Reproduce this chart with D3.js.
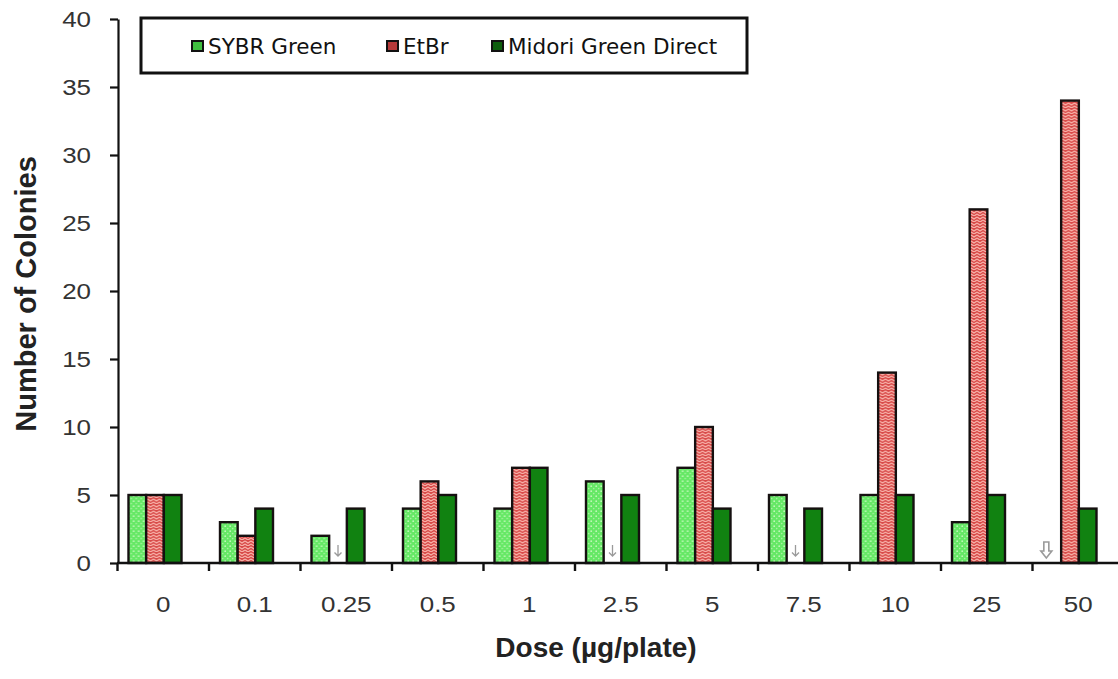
<!DOCTYPE html>
<html>
<head>
<meta charset="utf-8">
<script src="https://cdn.jsdelivr.net/npm/d3@7"></script>
<style>
  body { margin: 0; background: #fff; }
  svg { display: block; }
</style>
</head>
<body>
<svg id="chart" width="1118" height="679"></svg>
<script>
// values (null = none, marked with an arrow)
const doses = ["0", "0.1", "0.25", "0.5", "1", "2.5", "5", "7.5", "10", "25", "50"];
const seriesNames = ["SYBR Green", "EtBr", "Midori Green Direct"];
const sybr = [5, 3, 2, 4, 4, 6, 7, 5, 5, 3, null];
const etbr = [5, 2, null, 6, 7, null, 10, null, 14, 26, 34];
const midori = [5, 4, 4, 5, 7, 5, 4, 4, 5, 5, 4];
const yTicks = [0, 5, 10, 15, 20, 25, 30, 35, 40];

const svg = d3.select("#chart");
const defs = svg.append("defs");

// speckled light green
const pg = defs.append("pattern").attr("id", "pat-sybr")
  .attr("width", 5).attr("height", 5).attr("patternUnits", "userSpaceOnUse");
pg.append("rect").attr("width", 5).attr("height", 5).attr("fill", "#66e866");
pg.append("circle").attr("cx", 1.2).attr("cy", 1.2).attr("r", 0.9).attr("fill", "#c0f8b8");
pg.append("circle").attr("cx", 3.7).attr("cy", 3.6).attr("r", 0.8).attr("fill", "#a8f2a0");

// red with pink zigzag
const pr = defs.append("pattern").attr("id", "pat-etbr")
  .attr("width", 6).attr("height", 6).attr("patternUnits", "userSpaceOnUse");
pr.append("rect").attr("width", 6).attr("height", 6).attr("fill", "#d84a48");
pr.append("path").attr("d", "M0,1 L3,3 L6,1 M0,4 L3,6 L6,4")
  .attr("fill", "none").attr("stroke", "#f7b0a8").attr("stroke-width", 1.3);

const fills = ["url(#pat-sybr)", "url(#pat-etbr)", "#118211"];
const swatch = ["#3fbf3f", "#b53a3a", "#0d5e0d"];

const x = d3.scaleBand().domain(doses).range([117.5, 1124]);
const sub = d3.scaleBand().domain(seriesNames).range([11, 64]);
const y = d3.scaleLinear().domain([0, 40]).range([563, 19]);

const rows = doses.map((d, i) => ({dose: d, values: [sybr[i], etbr[i], midori[i]]}));

// bars
const groups = svg.append("g").selectAll("g").data(rows).join("g")
  .attr("transform", d => `translate(${x(d.dose)},0)`);

groups.selectAll("rect").data(d => d.values.map((v, k) => ({v, k})).filter(e => e.v != null))
  .join("rect")
  .attr("x", e => sub(seriesNames[e.k]))
  .attr("width", sub.bandwidth())
  .attr("y", e => y(e.v))
  .attr("height", e => y(0) - y(e.v))
  .attr("fill", e => fills[e.k])
  .attr("stroke", "#151010")
  .attr("stroke-width", 2.4);

// arrows where there is no bar
groups.selectAll("path.miss").data(d => d.values.map((v, k) => ({v, k})).filter(e => e.v == null))
  .join("path")
  .attr("class", "miss")
  .attr("transform", e => `translate(${sub(seriesNames[e.k]) + sub.bandwidth() / 2 - (e.k === 0 ? 6 : 0)},${y(0) - 12})`)
  .attr("d", e => e.k === 0
    ? "M-2.5,-9 L2.5,-9 L2.5,0 L5.5,0 L0,7 L-5.5,0 L-2.5,0 Z"
    : "M0,-6 L0,5 M-3.5,1.5 L0,5 L3.5,1.5")
  .attr("fill", "none")
  .attr("stroke", "#9a9a9a")
  .attr("stroke-width", e => e.k === 0 ? 1.6 : 1.3);

// y axis
const yAxis = svg.append("g").attr("transform", "translate(118,0)")
  .call(d3.axisLeft(y).tickValues(yTicks).tickSize(8).tickSizeOuter(0));
yAxis.select(".domain").attr("stroke", "#111").attr("stroke-width", 2.2);
yAxis.selectAll(".tick line").attr("stroke", "#111").attr("stroke-width", 2.2);
yAxis.selectAll(".tick text")
  .attr("x", -27 / 1.18)
  .attr("transform", "scale(1.18,1)")
  .attr("font-family", "'Liberation Sans', Arial, sans-serif")
  .attr("font-size", 22)
  .attr("fill", "#333");

// x axis
const xAxis = svg.append("g");
xAxis.append("line")
  .attr("x1", 117).attr("x2", 1118).attr("y1", y(0)).attr("y2", y(0))
  .attr("stroke", "#111").attr("stroke-width", 2.6);
xAxis.selectAll("line.tk").data(doses).join("line")
  .attr("class", "tk")
  .attr("x1", d => x(d)).attr("x2", d => x(d))
  .attr("y1", y(0)).attr("y2", y(0) + 8)
  .attr("stroke", "#111").attr("stroke-width", 2.4);
xAxis.selectAll("text").data(doses).join("text")
  .attr("transform", d => `translate(${x(d) + x.bandwidth() / 2},612) scale(1.18,1)`)
  .attr("text-anchor", "middle")
  .attr("font-family", "'Liberation Sans', Arial, sans-serif")
  .attr("font-size", 22)
  .attr("fill", "#333")
  .text(d => d);

// axis titles
svg.append("text")
  .attr("x", 596).attr("y", 657)
  .attr("text-anchor", "middle")
  .attr("font-family", "'Liberation Sans', Arial, sans-serif")
  .attr("font-weight", "bold")
  .attr("font-size", 28)
  .attr("fill", "#222")
  .text("Dose (\u00b5g/plate)");

svg.append("text")
  .attr("transform", "translate(36,294) rotate(-90)")
  .attr("text-anchor", "middle")
  .attr("font-family", "'Liberation Sans', Arial, sans-serif")
  .attr("font-weight", "bold")
  .attr("font-size", 29)
  .attr("fill", "#222")
  .text("Number of Colonies");

// legend
const legend = svg.append("g");
legend.append("rect")
  .attr("x", 141).attr("y", 18).attr("width", 606).attr("height", 55)
  .attr("fill", "#fff").attr("stroke", "#111").attr("stroke-width", 3);
const legendX = [192, 387, 492];
const item = legend.selectAll("g").data(seriesNames).join("g")
  .attr("transform", (d, i) => `translate(${legendX[i]},46)`);
item.append("rect")
  .attr("x", 0).attr("y", -5).attr("width", 11).attr("height", 10)
  .attr("fill", (d, i) => swatch[i])
  .attr("stroke", "#111").attr("stroke-width", 2);
item.append("text")
  .attr("x", 16).attr("y", 8)
  .attr("font-family", "'DejaVu Sans', Verdana, sans-serif")
  .attr("font-size", 21.5)
  .attr("fill", "#111")
  .text(d => d);
</script>
</body>
</html>
